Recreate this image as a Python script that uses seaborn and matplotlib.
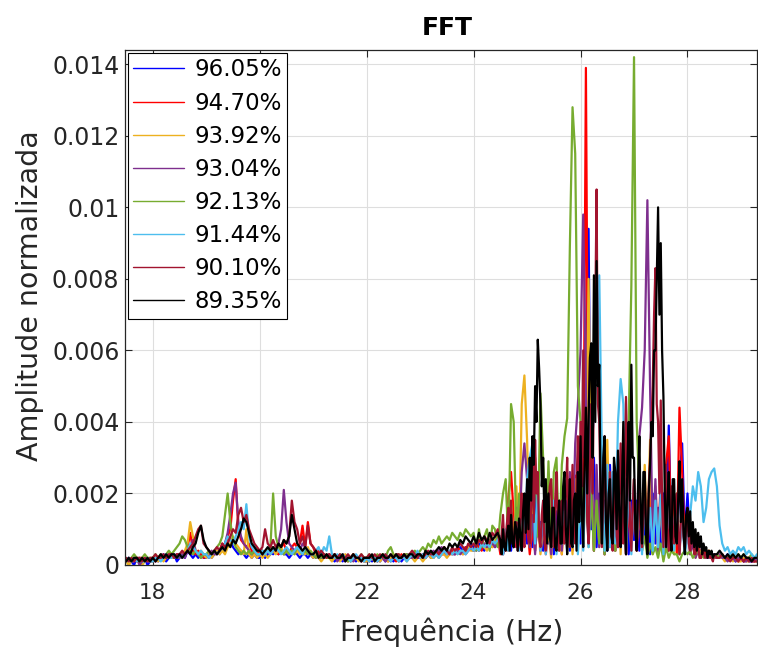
import numpy as np
import pandas as pd
import matplotlib
matplotlib.use("Agg")
import matplotlib.pyplot as plt
import seaborn as sns
from matplotlib.ticker import FuncFormatter

# ---------------- data (amplitudes in units of 1e-4) ----------------
freq_start = 17.5
freq_step = 0.05
fine_start = 24.5      # dense band read at a finer step for the dominant traces
fine_step = 0.025
tail_start = 28.5

series_labels = ["96.05%", "94.70%", "93.92%", "93.04%",
                 "92.13%", "91.44%", "90.10%", "89.35%"]
series_colors = ["#0000FF", "#FF0000", "#EDB120", "#7E2F8E",
                 "#77AC30", "#4DBEEE", "#A2142F", "#000000"]

amp_9605 = [1,2,1,0,2,1,1,2,0,1,
    1,2,1,2,3,1,2,2,3,1,2,3,2,4,3,2,3,2,3,2,
    2,3,2,3,4,3,5,6,8,7,5,4,3,4,3,2,3,2,3,2,
    2,3,2,3,4,3,4,3,4,3,3,2,3,4,3,2,3,3,2,3,
    2,3,2,2,3,2,3,2,1,2,2,1,2,2,1,2,1,2,2,1,
    1,2,1,2,2,1,2,1,2,2,1,2,2,1,2,3,2,2,3,2,
    2,3,2,3,2,3,3,2,3,4,3,3,4,3,4,5,4,5,4,6,
    5,4,6,5,4,6,5,7,5,6,8,3,6,9,4,12,5,12,4,16,
    6,18,5,20,8,12,4,10,6,11,3,15,5,14,7,18,4,20,8,18,
    6,25,45,94,10,30,5,20,8,18,4,28,6,20,5,16,8,24,3,18,
    7,18,4,16,8,18,3,20,6,16,5,20,4,39,6,18,5,24,34,8,
    20,6,10,3,6,2,4,3,3,2,3,2,3,2,2,3,2,2,1,2,
    2,1,2,1,1,2,1]

amp_9470 = [1,2,1,2,1,2,2,1,2,1,
    2,1,2,3,2,2,3,2,3,2,3,2,3,5,9,4,3,4,3,2,
    3,2,3,4,3,4,6,5,8,10,18,24,10,7,6,5,6,4,3,4,
    3,4,3,4,3,5,4,3,5,6,4,3,5,6,5,6,11,5,12,6,
    5,3,4,2,3,2,3,2,3,2,2,3,2,1,2,3,2,2,1,2,
    2,1,2,2,1,2,3,2,1,2,2,1,2,3,2,2,3,2,2,3,
    2,3,2,3,3,2,3,4,3,3,4,3,4,3,5,4,3,5,4,5,
    4,6,5,4,6,5,7,5,6,8,3,9,4,19,26,14,5,10,4,9,
    12,3,10,4,12,5,14,3,10,4,12,6,18,3,20,5,22,4,25,6,
    28,8,139,12,25,4,22,6,20,3,18,5,22,4,24,6,18,3,16,5,
    18,4,16,6,18,3,22,5,18,6,24,4,28,36,5,18,3,44,26,6,
    16,4,9,3,6,2,4,3,4,3,2,3,2,3,2,2,3,2,2,1,
    2,1,2,2,1,1,2]

amp_9392 = [1,0,1,2,1,1,0,1,2,1,
    1,2,1,2,1,2,3,2,2,3,2,3,4,6,12,8,4,3,4,3,
    2,3,2,3,4,3,4,3,5,6,8,6,5,4,3,10,3,2,3,2,
    3,2,3,2,3,4,3,4,5,3,4,3,4,3,4,3,4,3,5,3,
    2,3,2,1,2,3,2,1,2,2,1,2,3,2,1,2,2,1,2,1,
    1,2,2,1,2,1,2,2,1,2,3,2,1,2,2,1,2,2,1,2,
    2,1,2,3,2,2,3,2,3,3,2,3,3,4,3,4,3,4,5,4,
    4,5,4,6,5,4,6,5,7,6,8,3,9,4,18,5,22,6,45,53,
    35,5,20,4,12,3,10,5,9,2,14,4,16,3,18,5,20,3,24,4,
    26,6,24,80,30,4,22,5,24,3,35,6,24,4,26,3,24,5,22,4,
    24,5,26,4,28,6,35,3,22,5,18,4,20,6,18,3,20,4,18,5,
    12,3,8,2,5,3,3,2,2,3,2,2,3,2,1,2,2,1,2,1,
    1,2,1,1,2,1,1]

amp_9304 = [1,2,1,1,2,0,1,2,1,1,
    2,1,2,2,3,2,2,3,2,3,2,3,2,4,5,7,4,3,2,3,
    3,2,4,3,3,4,5,6,9,14,20,23,12,8,6,5,4,3,4,3,
    3,4,3,4,3,4,5,6,10,21,12,6,5,4,5,4,6,5,4,3,
    3,2,3,2,2,3,2,2,3,1,2,2,1,2,2,1,2,2,1,2,
    2,1,2,2,1,2,2,1,2,1,2,2,1,2,2,3,2,2,3,2,
    2,3,2,3,3,4,3,4,5,4,3,4,3,3,4,3,4,3,4,5,
    4,5,4,5,6,5,7,6,5,7,6,3,7,4,10,5,16,6,26,34,
    24,5,14,3,16,4,12,6,14,3,16,5,18,4,20,6,26,5,34,45,
    60,98,50,6,30,4,28,5,30,3,22,6,24,4,28,5,26,3,20,6,
    24,5,36,44,60,102,50,6,24,3,22,5,24,4,16,6,18,3,16,5,
    10,3,6,2,4,3,3,2,2,3,2,2,3,2,2,1,2,2,1,2,
    2,1,1,2,1,1,2]

amp_9213 = [2,1,2,3,2,1,2,3,2,2,
    2,3,2,3,2,3,4,3,4,5,6,8,7,5,4,3,4,3,2,3,
    3,4,3,4,5,6,8,14,20,12,7,5,4,3,4,3,4,3,4,3,
    3,4,3,4,5,20,8,5,4,3,4,3,4,3,5,4,3,4,3,4,
    3,2,3,2,3,2,2,3,2,2,3,2,2,1,2,3,2,2,3,2,
    2,3,2,2,3,2,3,2,4,5,3,2,3,2,3,3,2,3,4,3,
    4,5,4,6,5,7,6,8,6,7,8,7,9,8,7,9,8,10,9,8,
    9,4,10,5,8,10,4,11,10,5,14,20,24,6,45,40,8,20,5,14,
    18,6,24,30,8,48,30,6,29,5,26,30,4,28,36,41,89,128,115,50,
    40,6,30,5,20,4,18,6,16,3,18,5,20,4,22,6,24,5,40,78,
    142,40,20,4,8,2,6,3,5,2,6,1,5,2,4,3,3,1,3,4,
    3,4,2,3,4,3,2,3,4,3,2,3,2,3,2,2,3,2,2,3,
    2,3,2,2,3,2,2]

amp_9144 = [1,2,1,2,1,2,1,1,2,1,
    1,2,2,1,2,3,2,2,3,2,3,2,3,4,6,5,4,3,4,3,
    3,2,3,4,3,4,5,6,8,7,6,8,10,12,10,17,8,5,4,3,
    3,4,3,4,3,4,5,4,3,4,5,4,3,4,5,4,3,5,4,3,
    3,4,5,3,5,4,8,3,2,3,2,3,2,2,1,2,3,2,2,1,
    2,1,2,2,1,2,2,3,2,1,2,2,1,2,2,1,2,3,2,4,
    2,3,2,3,3,2,3,2,3,4,3,4,3,4,3,4,4,3,4,5,
    4,5,4,6,5,6,5,7,6,7,8,3,10,4,12,5,12,4,18,6,
    24,30,34,6,20,4,18,3,12,5,18,3,16,6,15,4,22,5,20,3,
    18,4,26,5,35,40,60,81,30,4,28,5,26,6,40,52,45,4,24,3,
    22,5,24,3,18,6,16,4,18,5,20,3,18,6,16,4,18,5,12,3,
    8,14,22,18,26,22,12,16,24,26,27,22,11,6,4,5,3,4,3,5,
    4,5,3,4,3,2,3]

# dark-red trace: coarse 17.50-24.45, fine 24.500-28.475, tail 28.50-29.30
amp_9010_low = [2,1,2,1,2,2,1,2,1,2,
    2,3,2,2,3,2,3,3,2,3,3,4,3,4,5,6,8,10,11,6,
    5,4,3,4,5,4,6,5,6,8,10,9,14,16,12,14,10,8,6,5,
    4,5,10,6,5,7,5,6,5,7,6,8,18,12,10,6,8,5,11,6,
    5,4,3,4,3,2,3,2,3,2,3,2,2,3,2,3,2,2,3,2,
    2,3,2,3,2,3,2,3,2,3,2,3,3,2,3,2,3,4,3,2,
    3,2,3,4,3,3,4,3,4,5,4,3,5,4,5,6,5,4,6,5,
    6,5,7,6,8,7,6,9,8,10]
amp_9010_mid = [4,9,14,5,6,12,16,7,18,10,5,8,12,4,6,14,20,8,5,11,
    22,9,6,16,30,12,35,20,26,8,5,14,18,6,4,12,16,22,24,10,
    5,18,26,9,4,15,18,7,6,20,30,12,5,16,28,10,6,22,36,14,
    40,22,60,30,40,12,6,25,45,20,50,70,105,45,40,18,5,20,36,12,
    6,18,26,10,4,16,24,8,5,20,34,14,6,22,47,25,30,12,4,16,
    24,10,6,18,22,8,5,14,26,10,4,22,30,40,50,70,83,45,40,20,
    46,18,5,20,28,10,4,12,22,8,6,16,20,9,3,12,20,8,5,10,
    14,6,4,10,8,3,3,6,5,2,2,4,4,2,3,2,3,2,2,1]
amp_9010_tail = [3,2,2,3,2,2,1,2,2,1,2,1,2,1,2,1,1]

# black trace: coarse 17.50-24.45, fine 24.500-28.475, tail 28.50-29.30
amp_8935_low = [1,2,1,2,2,1,2,1,2,1,
    2,1,2,3,2,3,2,3,3,2,3,2,3,4,3,5,6,9,11,7,
    5,4,3,4,3,4,5,4,6,5,7,6,8,10,13,12,9,6,5,4,
    4,3,4,5,4,5,4,6,5,7,6,8,14,10,6,5,4,5,4,3,
    3,4,2,3,2,3,2,2,3,2,2,3,1,2,2,3,2,2,1,2,
    2,2,3,1,2,2,3,2,2,3,2,3,2,2,3,2,3,3,2,3,
    3,2,4,3,4,3,4,5,4,5,4,6,5,6,5,7,6,8,7,6,
    8,6,9,7,8,6,9,7,8,9]
amp_8935_mid = [7,3,10,5,4,9,11,4,14,6,5,12,10,4,13,8,4,15,20,9,
    24,10,30,18,36,28,50,40,63,55,45,22,30,12,24,6,20,8,5,16,
    16,5,4,12,18,6,6,22,26,10,3,14,24,6,5,18,20,4,26,12,
    36,14,5,28,44,20,40,58,62,30,81,40,85,50,56,20,6,30,36,12,
    4,20,24,8,6,30,26,10,32,14,5,22,40,12,3,28,40,18,56,30,
    30,10,4,22,36,14,6,26,26,8,3,20,28,40,36,60,60,80,100,70,
    90,60,47,20,5,18,26,10,4,24,24,8,6,18,29,12,24,10,3,14,
    16,8,15,6,12,5,10,4,9,5,8,3,6,4,5,2,4,3,4,2]
amp_8935_tail = [3,3,4,3,2,3,2,3,2,3,2,3,2,2,1,2,2]

series_segments = [
    [(freq_start, freq_step, amp_9605)],
    [(freq_start, freq_step, amp_9470)],
    [(freq_start, freq_step, amp_9392)],
    [(freq_start, freq_step, amp_9304)],
    [(freq_start, freq_step, amp_9213)],
    [(freq_start, freq_step, amp_9144)],
    [(freq_start, freq_step, amp_9010_low),
     (fine_start, fine_step, amp_9010_mid),
     (tail_start, freq_step, amp_9010_tail)],
    [(freq_start, freq_step, amp_8935_low),
     (fine_start, fine_step, amp_8935_mid),
     (tail_start, freq_step, amp_8935_tail)],
]

x_ticks = [18, 20, 22, 24, 26, 28]
y_ticks = [0, 0.002, 0.004, 0.006, 0.008, 0.010, 0.012, 0.014]

# ---------------- build long table ----------------
frames = []
for lab, segs in zip(series_labels, series_segments):
    for start, step, vals in segs:
        v = np.asarray(vals, dtype=float)
        frames.append(pd.DataFrame({
            "freq": start + step * np.arange(len(v)),
            "amp": v * 1e-4,
            "serie": lab,
        }))
df = pd.concat(frames, ignore_index=True)
df["serie"] = pd.Categorical(df["serie"], categories=series_labels)
df = df.sort_values(["serie", "freq"], kind="stable").reset_index(drop=True)

# ---------------- plot ----------------
sns.set_theme(style="ticks")
plt.rcParams["font.family"] = ["DejaVu Sans"]
txt = "#262626"

fig = plt.figure(figsize=(7.58, 6.51), dpi=100)
ax = fig.add_axes([125 / 758, 86 / 651, 632 / 758, 515 / 651])

sns.lineplot(data=df, x="freq", y="amp", hue="serie",
             hue_order=series_labels,
             palette=dict(zip(series_labels, series_colors)),
             estimator=None, sort=False, linewidth=1.6, ax=ax)

ax.set_xlim(17.48, 29.3)
ax.set_ylim(0, 0.0144)
ax.set_xticks(x_ticks)
ax.set_yticks(y_ticks)
ax.yaxis.set_major_formatter(FuncFormatter(lambda v, _: "0" if v == 0 else f"{v:g}"))

ax.grid(True, color="#dedede", linewidth=0.8)
ax.set_axisbelow(True)
for s in ax.spines.values():
    s.set_visible(True)
    s.set_color(txt)
    s.set_linewidth(0.9)
ax.tick_params(direction="in", top=True, right=True, length=5, width=0.8,
               color=txt, labelcolor=txt)
ax.tick_params(axis="y", labelsize=17, pad=4)
ax.tick_params(axis="x", labelsize=15.5, pad=13)

ax.set_xlabel("Frequência (Hz)", fontsize=20.5, color=txt)
ax.set_ylabel("Amplitude normalizada", fontsize=20.5, color=txt)
ax.xaxis.set_label_coords(0.517, -0.102)
ax.yaxis.set_label_coords(-0.128, 0.524)
ax.set_title("FFT", fontsize=18, fontweight="bold", color="black", pad=11, x=0.51)

handles, labels = ax.get_legend_handles_labels()
leg = ax.legend(handles, labels, loc="upper left", fontsize=16.5,
                frameon=True, fancybox=False, framealpha=1,
                edgecolor="black", borderaxespad=0.12, handlelength=2.2,
                handletextpad=0.45, labelspacing=0.44, borderpad=0.25)
leg.get_frame().set_linewidth(0.8)
for t in leg.get_texts():
    t.set_color("black")
for h in leg.get_lines():
    h.set_linewidth(1.0)

fig.savefig("out.png", dpi=100)
